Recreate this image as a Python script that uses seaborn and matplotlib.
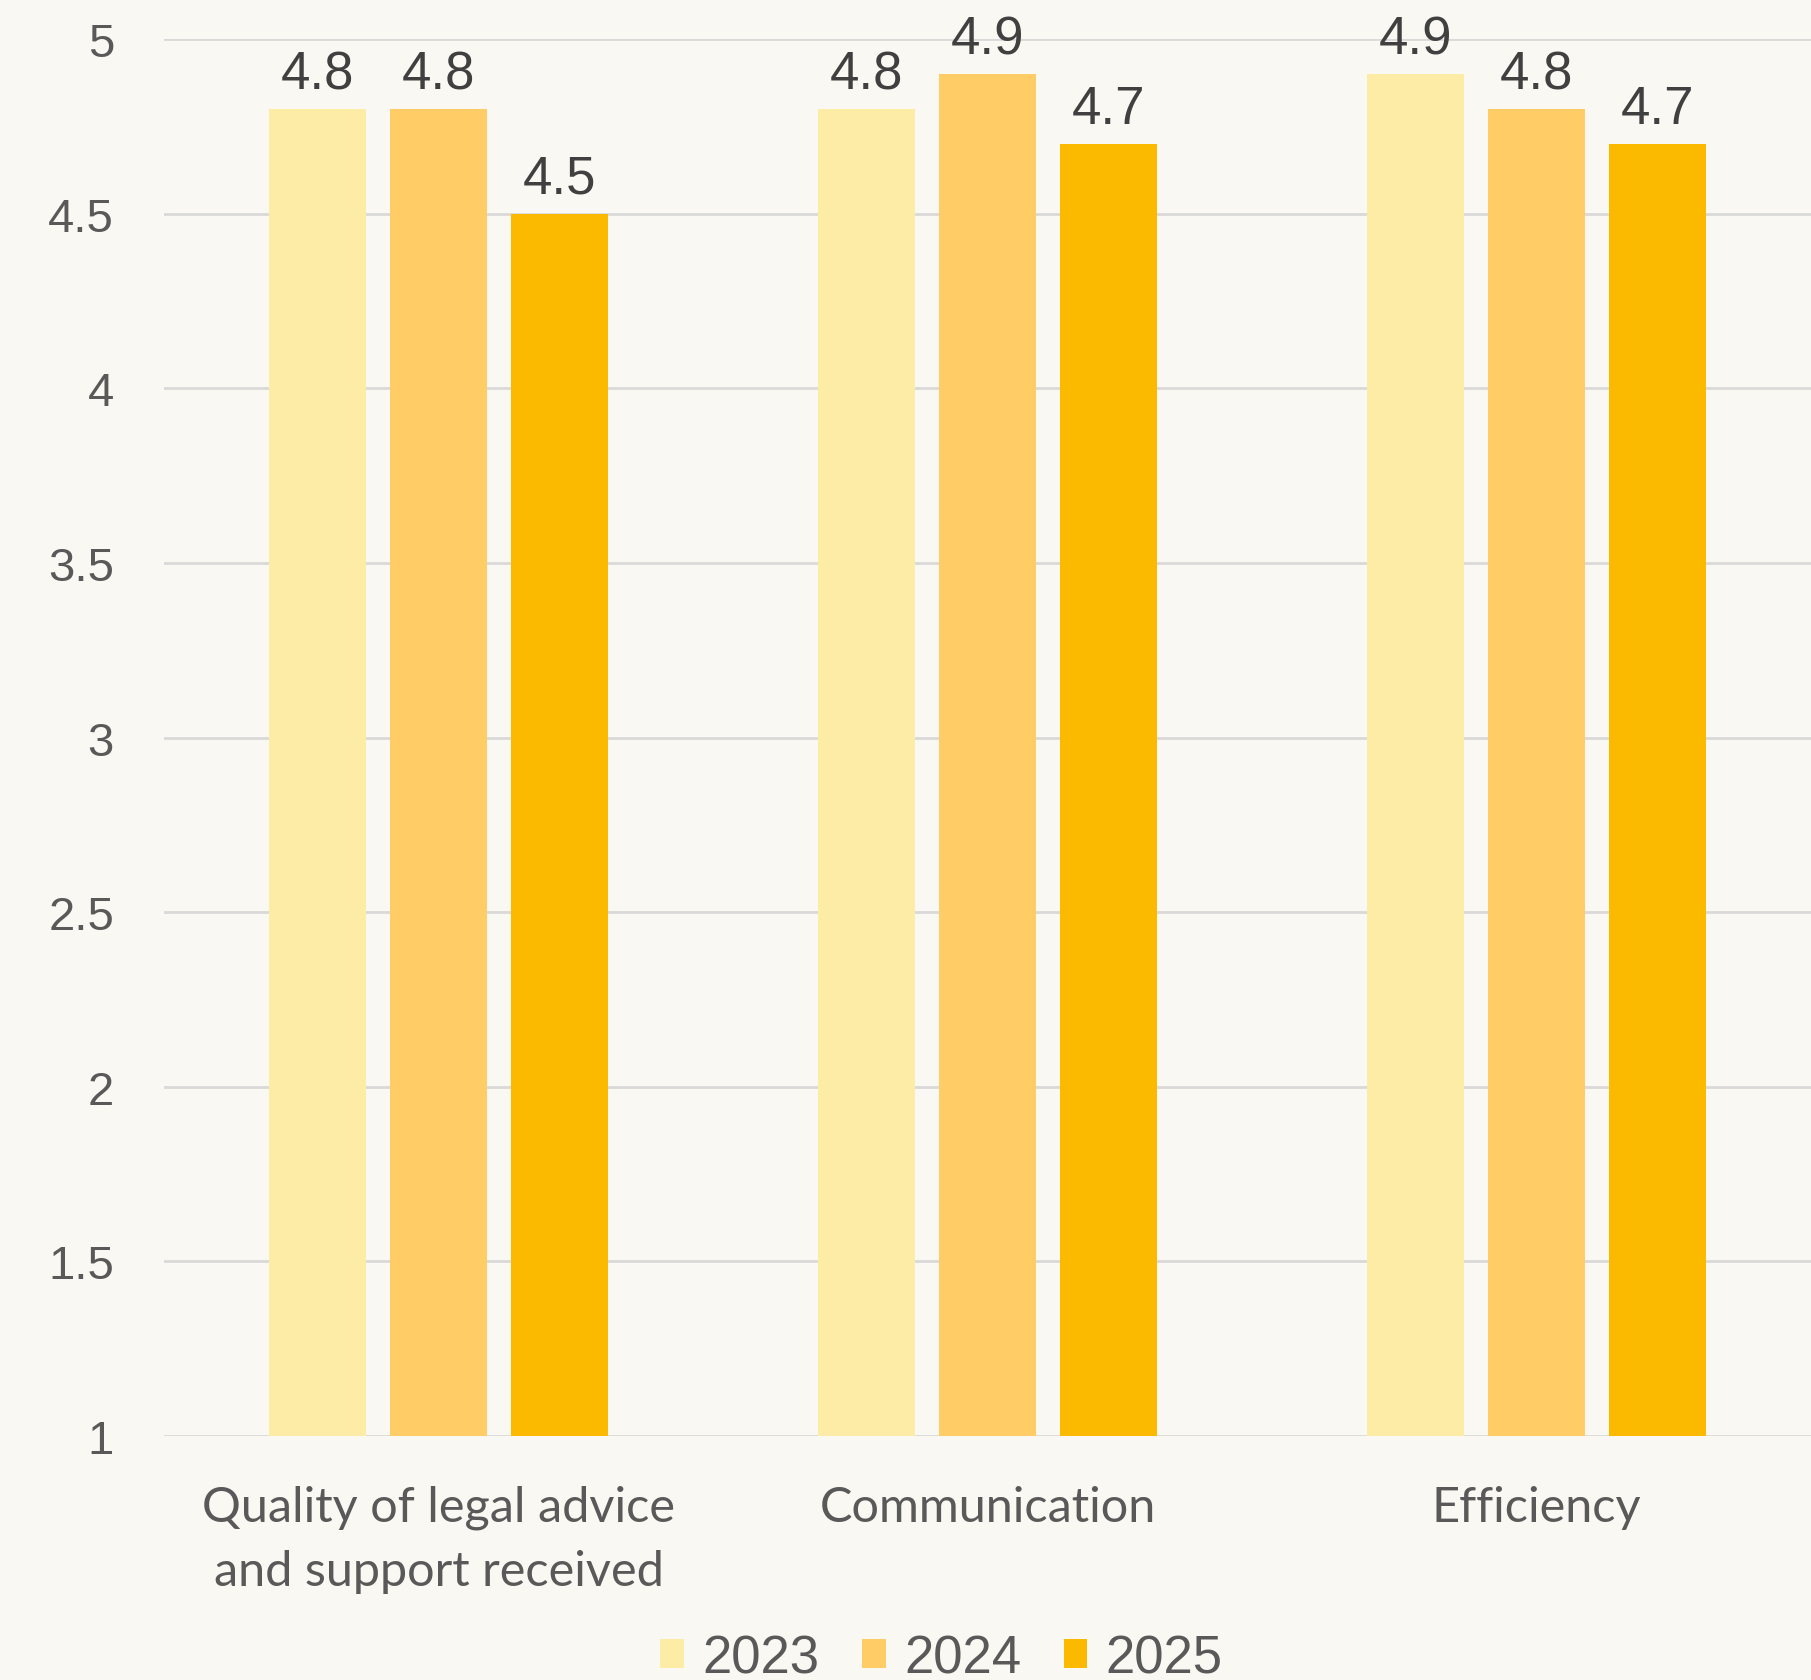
import pandas as pd
import matplotlib.pyplot as plt
import seaborn as sns

categories = ["Quality of legal advice\nand support received", "Communication", "Efficiency"]
years = ["2023", "2024", "2025"]
scores_2023 = [4.8, 4.8, 4.9]
scores_2024 = [4.8, 4.9, 4.8]
scores_2025 = [4.5, 4.7, 4.7]
colors = ["#FDECA6", "#FFCC66", "#FBBA00"]
yticks = [1, 1.5, 2, 2.5, 3, 3.5, 4, 4.5, 5]

df = pd.DataFrame({
    "category": categories * 3,
    "year": [y for y in years for _ in categories],
    "score": scores_2023 + scores_2024 + scores_2025,
})

bg = "#FAF8F2"
sns.set_theme(style="white")
plt.rcParams["font.family"] = ["Liberation Sans", "DejaVu Sans"]

fig = plt.figure(figsize=(18.11, 16.81), dpi=100, facecolor=bg)
ax = fig.add_axes([0.0906, 0.1451, 0.9094, 0.8311])
ax.set_facecolor(bg)

sns.barplot(data=df, x="category", y="score", hue="year", palette=colors,
            width=0.663, gap=0.2, saturation=1, linewidth=0, ax=ax, zorder=3)

for c in ax.containers:
    ax.bar_label(c, fmt="%.1f", padding=7, fontsize=38, color="#404040")

ax.set_ylim(1, 5)
ax.set_xlim(-0.5, 2.5)
ax.set_yticks(yticks)
ax.set_yticklabels([f"{t:g}" for t in yticks])
ax.yaxis.grid(True, color="#D9D9D9", linewidth=2, zorder=0)
ax.set_axisbelow(True)
for s in ax.spines.values():
    s.set_visible(False)
ax.tick_params(axis="y", length=0, pad=36, labelsize=34, labelcolor="#595959")
ax.tick_params(axis="x", length=0, pad=35)
for lbl in ax.get_xticklabels():
    lbl.set_fontfamily(["Lato", "DejaVu Sans"])
    lbl.set_fontsize(35)
    lbl.set_color("#595959")
    lbl.set_linespacing(1.55)
ax.set_xlabel("")
ax.set_ylabel("")

handles, labels = ax.get_legend_handles_labels()
ax.get_legend().remove()
fig.legend(handles, labels, loc="center", bbox_to_anchor=(0.52, 0.013), ncol=3,
           frameon=False, fontsize=38, labelcolor="#595959",
           handlelength=0.45, handleheight=0.45, handletextpad=0.35, columnspacing=0.8)

fig.savefig("out.png", dpi=100, facecolor=bg)
